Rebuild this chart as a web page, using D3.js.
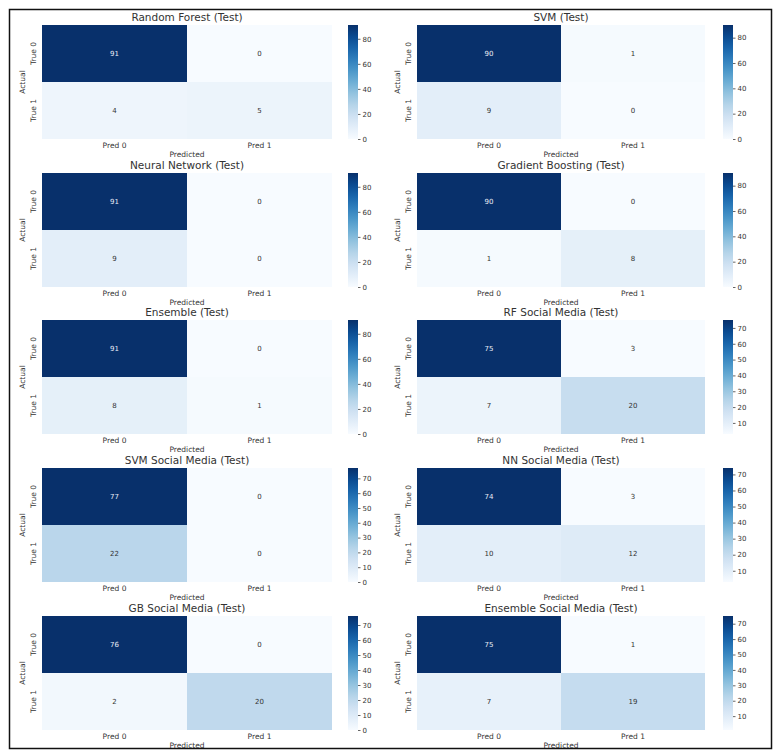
<!DOCTYPE html>
<html>
<head>
<meta charset="utf-8">
<script src="https://cdn.jsdelivr.net/npm/d3@7"></script>
<style>
  html, body { margin: 0; padding: 0; background: #fff; }
  svg { display: block; font-family: "DejaVu Sans", sans-serif; }
</style>
</head>
<body>
<svg id="chart" width="775" height="751"></svg>
<script>
// Confusion matrices (rows: actual class, columns: predicted class)
const titles = [
  "Random Forest (Test)", "SVM (Test)",
  "Neural Network (Test)", "Gradient Boosting (Test)",
  "Ensemble (Test)", "RF Social Media (Test)",
  "SVM Social Media (Test)", "NN Social Media (Test)",
  "GB Social Media (Test)", "Ensemble Social Media (Test)"
];
const rfTest       = [[91, 0], [4, 5]];
const svmTest      = [[90, 1], [9, 0]];
const nnTest       = [[91, 0], [9, 0]];
const gbTest       = [[90, 0], [1, 8]];
const ensTest      = [[91, 0], [8, 1]];
const rfSocial     = [[75, 3], [7, 20]];
const svmSocial    = [[77, 0], [22, 0]];
const nnSocial     = [[74, 3], [10, 12]];
const gbSocial     = [[76, 0], [2, 20]];
const ensSocial    = [[75, 1], [7, 19]];
const matrices = [rfTest, svmTest, nnTest, gbTest, ensTest,
                  rfSocial, svmSocial, nnSocial, gbSocial, ensSocial];

const xTickLabels = ["Pred 0", "Pred 1"];
const yTickLabels = ["True 0", "True 1"];
const xAxisLabel = "Predicted";
const yAxisLabel = "Actual";

const svg = d3.select("#chart");
svg.append("rect").attr("width", 775).attr("height", 751).attr("fill", "#fff");

// Grid layout of the 5 x 2 panels
const colX = [42, 417];          // heatmap left edges
const heatW = [290, 288];
const cbarX = [348, 723];        // colorbar left edges
const rowY = [25, 173, 320, 468, 616];
const heatH = 114;
const cbarW = 10;
const textColor = "#333";

matrices.forEach((m, i) => {
  const col = i % 2, row = Math.floor(i / 2);
  const x0 = colX[col], y0 = rowY[row], w = heatW[col];
  const g = svg.append("g").attr("transform", `translate(${x0},${y0})`);

  const flat = m.flat();
  const vmin = d3.min(flat), vmax = d3.max(flat);
  const color = d3.scaleSequential(d3.interpolateBlues).domain([vmin, vmax]);

  const xs = d3.scaleBand().domain(xTickLabels).range([0, w]);
  const ys = d3.scaleBand().domain(yTickLabels).range([0, heatH]);

  const cells = [];
  m.forEach((r, ri) => r.forEach((v, ci) => cells.push({ r: yTickLabels[ri], c: xTickLabels[ci], v })));

  g.selectAll("rect.cell").data(cells).join("rect")
    .attr("class", "cell")
    .attr("x", d => xs(d.c)).attr("y", d => ys(d.r))
    .attr("width", xs.bandwidth()).attr("height", ys.bandwidth())
    .attr("fill", d => color(d.v));

  const mid = (vmin + vmax) / 2;
  g.selectAll("text.annot").data(cells).join("text")
    .attr("class", "annot")
    .attr("x", d => xs(d.c) + xs.bandwidth() / 2)
    .attr("y", d => ys(d.r) + ys.bandwidth() / 2)
    .attr("dy", "0.35em")
    .attr("text-anchor", "middle")
    .attr("font-size", 7)
    .attr("fill", d => d.v > mid ? "#e8eef6" : "#333")
    .text(d => d.v);

  // Title
  g.append("text")
    .attr("x", w / 2).attr("y", -4)
    .attr("text-anchor", "middle")
    .attr("font-size", 10.5)
    .attr("fill", textColor)
    .text(titles[i]);

  // X tick labels and axis label
  g.selectAll("text.xt").data(xTickLabels).join("text")
    .attr("class", "xt")
    .attr("x", d => xs(d) + xs.bandwidth() / 2)
    .attr("y", heatH + 9)
    .attr("text-anchor", "middle")
    .attr("font-size", 7.5)
    .attr("fill", textColor)
    .text(d => d);
  g.append("text")
    .attr("x", w / 2).attr("y", heatH + 18)
    .attr("text-anchor", "middle")
    .attr("font-size", 7.5)
    .attr("fill", textColor)
    .text(xAxisLabel);

  // Y tick labels (vertical) and axis label
  g.selectAll("text.yt").data(yTickLabels).join("text")
    .attr("class", "yt")
    .attr("transform", d => `translate(-6,${ys(d) + ys.bandwidth() / 2}) rotate(-90)`)
    .attr("text-anchor", "middle")
    .attr("font-size", 7.5)
    .attr("fill", textColor)
    .text(d => d);
  g.append("text")
    .attr("transform", `translate(-17,${heatH / 2}) rotate(-90)`)
    .attr("text-anchor", "middle")
    .attr("font-size", 7.5)
    .attr("fill", textColor)
    .text(yAxisLabel);

  // Colorbar
  const cb = svg.append("g").attr("transform", `translate(${cbarX[col]},${y0})`);
  const gradId = `grad${i}`;
  const grad = svg.append("defs").append("linearGradient")
    .attr("id", gradId).attr("x1", 0).attr("y1", 1).attr("x2", 0).attr("y2", 0);
  d3.range(0, 1.0001, 0.1).forEach(t => {
    grad.append("stop").attr("offset", t).attr("stop-color", d3.interpolateBlues(t));
  });
  cb.append("rect").attr("width", cbarW).attr("height", heatH).attr("fill", `url(#${gradId})`);
  const cs = d3.scaleLinear().domain([vmin, vmax]).range([heatH, 0]);
  const axis = d3.axisRight(cs).ticks(6).tickSize(2.5).tickPadding(2);
  const ax = cb.append("g").attr("transform", `translate(${cbarW},0)`).call(axis);
  ax.select(".domain").remove();
  ax.selectAll("line").attr("stroke", "#666");
  ax.selectAll("text").attr("font-size", 7).attr("fill", textColor)
    .attr("font-family", "DejaVu Sans, sans-serif");
});

// Outer frame
svg.append("rect")
  .attr("x", 9.5).attr("y", 9.5).attr("width", 762).attr("height", 739)
  .attr("fill", "none").attr("stroke", "#111").attr("stroke-width", 1.5);
</script>
</body>
</html>
